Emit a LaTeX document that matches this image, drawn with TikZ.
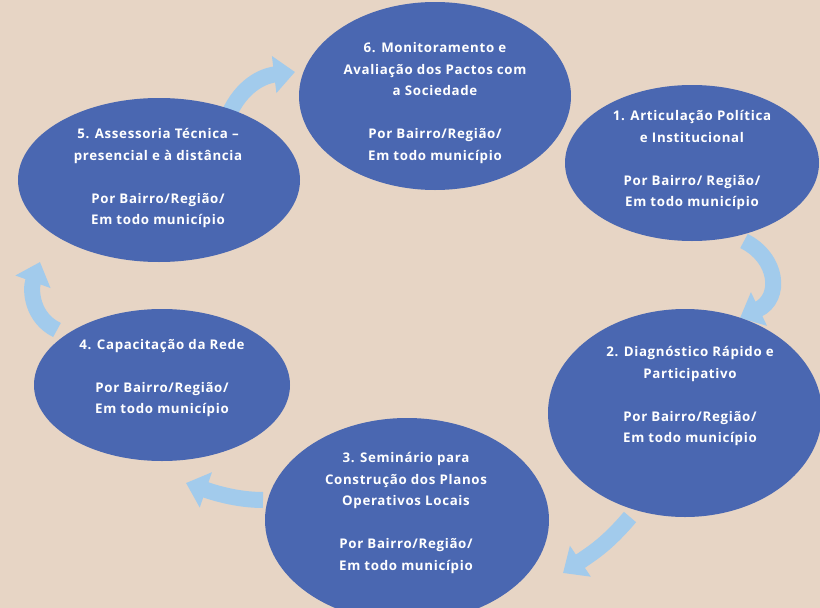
\documentclass[tikz,border=0pt]{standalone}
\usepackage{fontspec}
\setmainfont[LetterSpace=5]{Open Sans}
\usetikzlibrary{shapes.geometric,arrows.meta}
\definecolor{bg}{HTML}{E7D5C5}
\definecolor{ell}{HTML}{4A67B1}
\definecolor{arr}{HTML}{A2CBEC}
\tikzset{
  stage/.style={ellipse, fill=ell, draw=none, inner sep=0pt},
  lbl/.style={text=white, align=center, font=\bfseries\fontsize{13.3}{21.5}\selectfont},
  cyc/.style={draw=arr, line width=16pt, -{Triangle[width=36pt,length=21pt]}}
}
\begin{document}
\begin{tikzpicture}[x=1pt,y=-1pt]
\fill[bg] (0,0) rectangle (820,608);
\useasboundingbox (0,0) rectangle (820,608);
% arrows
\coordinate (a5s) at (229,114); \coordinate (a5e) at (295,72);
\coordinate (a1s) at (744,241); \coordinate (a1e) at (740,318);
\coordinate (a2s) at (630,517); \coordinate (a2e) at (563,573);
\coordinate (a3s) at (263,500); \coordinate (a3e) at (186,483);
\coordinate (a4s) at (57,330);  \coordinate (a4e) at (40,262);
\draw[cyc] (a5s) .. controls (242,86) and (262,76) .. (a5e);
\draw[cyc] (a1s) .. controls (778,258) and (782,298) .. (a1e);
\draw[cyc] (a2s) .. controls (608,543) and (594,552) .. (a2e);
\draw[cyc] (a3s) .. controls (236,500) and (212,492) .. (a3e);
\draw[cyc] (a4s) .. controls (32,318) and (30,290) .. (a4e);
% ellipses
\node[stage, minimum width=272pt, minimum height=188pt] (e6) at (435,96) {};
\node[stage, minimum width=254pt, minimum height=156pt] (e1) at (692,163) {};
\node[stage, minimum width=274pt, minimum height=208pt] (e2) at (685,413) {};
\node[stage, minimum width=284pt, minimum height=204pt] (e3) at (407,520) {};
\node[stage, minimum width=256pt, minimum height=152pt] (e4) at (162,385) {};
\node[stage, minimum width=282pt, minimum height=164pt] (e5) at (159,180) {};
% texts
\node[lbl] (t6) at (435,103) {6. Monitoramento e\\Avaliação dos Pactos com\\a Sociedade\\[21.5pt]Por Bairro/Região/\\Em todo município};
\node[lbl] (t1) at (692,160.5) {1. Articulação Política\\e Institucional\\[21.5pt]Por Bairro/ Região/\\Em todo município};
\node[lbl] (t2) at (690,396) {2. Diagnóstico Rápido e\\Participativo\\[21.5pt]Por Bairro/Região/\\Em todo município};
\node[lbl] (t3) at (406,513) {3. Seminário para\\Construção dos Planos\\Operativos Locais\\[21.5pt]Por Bairro/Região/\\Em todo município};
\node[lbl] (t4) at (162,378) {4. Capacitação da Rede\\[21.5pt]Por Bairro/Região/\\Em todo município};
\node[lbl] (t5) at (158,178.5) {5. Assessoria Técnica –\\presencial e à distância\\[21.5pt]Por Bairro/Região/\\Em todo município};
\end{tikzpicture}
\end{document}
